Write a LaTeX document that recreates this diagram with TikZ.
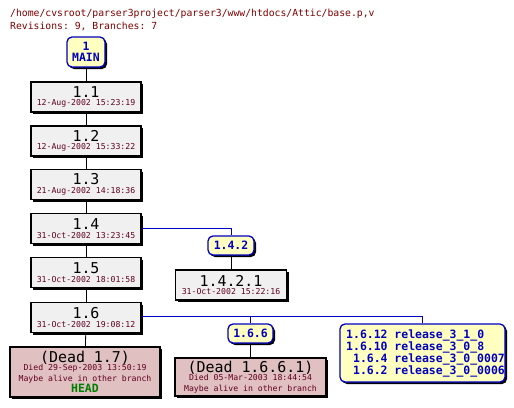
\documentclass[tikz,border=0pt]{standalone}
\usepackage{fontspec}
\setmonofont{DejaVu Sans Mono}
\usetikzlibrary{shadows}
\definecolor{revfill}{HTML}{F0F0F0}
\definecolor{deadfill}{HTML}{E0C0C0}
\definecolor{tagfill}{HTML}{FFFFC0}
\definecolor{datec}{HTML}{600020}
\definecolor{titlec}{HTML}{800000}
\definecolor{tagc}{HTML}{0000C0}
\definecolor{headc}{HTML}{008000}
\newcommand\bigf{\fontsize{15}{15}\selectfont}
\newcommand\smallf{\fontsize{8.2}{9}\selectfont}
\newcommand\tagf{\fontsize{11.5}{13}\selectfont\bfseries}
\tikzset{
  shad/.style={drop shadow={shadow xshift=2bp, shadow yshift=-2bp, fill=black, opacity=1}},
  revbox/.style={shad, draw=black, fill=revfill, line width=1.3bp, minimum width=110bp, minimum height=30bp, inner sep=0pt, align=center, font=\ttfamily},
  deadbox/.style={revbox, fill=deadfill},
  tagbox/.style={shad, draw=tagc, fill=tagfill, line width=1.3bp, rounded corners=5bp, inner sep=0pt, align=center, font=\ttfamily\tagf, text=tagc},
  trunk/.style={draw=black, line width=0.8bp},
  branch/.style={draw=tagc, line width=0.8bp},
}
\newcommand\rev[2]{{\bigf #1}\\[-3.5bp]{\smallf\color{datec}#2}}
\begin{document}
\begin{tikzpicture}[x=1bp,y=-1bp]
\useasboundingbox (0,0) rectangle (514,407);
\node[anchor=base west, font=\ttfamily\fontsize{9.8}{11}\selectfont, text=titlec, inner sep=0pt] (title) at (10,16) {/home/cvsroot/parser3project/parser3/www/htdocs/Attic/base.p,v};
\node[anchor=base west, font=\ttfamily\fontsize{9.8}{11}\selectfont, text=titlec, inner sep=0pt] (revs) at (10,29) {Revisions: 9, Branches: 7};

\node[tagbox, minimum width=38bp, minimum height=30bp] (main) at (86,52) {1\\[-2bp]MAIN};
\node[revbox] (r11) at (86,97) {\rev{1.1}{12-Aug-2002 15:23:19}};
\node[revbox] (r12) at (86,141) {\rev{1.2}{12-Aug-2002 15:33:22}};
\node[revbox] (r13) at (86,184.5) {\rev{1.3}{21-Aug-2002 14:18:36}};
\node[revbox] (r14) at (86,228.5) {\rev{1.4}{31-Oct-2002 13:23:45}};
\node[revbox] (r15) at (86,272.5) {\rev{1.5}{31-Oct-2002 18:01:58}};
\node[revbox] (r16) at (86,317.5) {\rev{1.6}{31-Oct-2002 19:08:12}};
\node[deadbox, minimum width=150bp, minimum height=50bp] (d17) at (85,372) {{\bigf (Dead 1.7)}\\[-3.5bp]{\smallf\color{datec}Died 29-Sep-2003 13:50:19}\\[-1bp]{\smallf\color{datec}Maybe alive in other branch}\\[-1bp]{\tagf\color{headc}HEAD}};

\node[tagbox, minimum width=46bp, minimum height=19bp] (t142) at (231,245.5) {1.4.2};
\node[revbox, minimum width=111bp] (r1421) at (231,285) {\rev{1.4.2.1}{31-Oct-2002 15:22:16}};

\node[tagbox, minimum width=45bp, minimum height=19bp] (t166) at (250.5,333.5) {1.6.6};
\node[deadbox, minimum width=151bp, minimum height=38bp] (d1661) at (250.5,377) {{\bigf (Dead 1.6.6.1)}\\[-3.5bp]{\smallf\color{datec}Died 05-Mar-2003 18:44:54}\\[-1bp]{\smallf\color{datec}Maybe alive in other branch}};

\node[tagbox, minimum width=165bp, minimum height=58bp] (rel) at (422.5,353) {};
\begin{scope}
\clip (341,325) rectangle (504,381);
\node[anchor=west, inner sep=0pt, font=\ttfamily\tagf, text=tagc] (reltext) at (346,353.5) {\renewcommand\arraystretch{0.86}\begin{tabular}{@{}r@{\hspace{0.602em}}l@{}}1.6.12 & release\_3\_1\_0\\1.6.10 & release\_3\_0\_8\\1.6.4 & release\_3\_0\_0007\\1.6.2 & release\_3\_0\_0006\end{tabular}};
\end{scope}

\path[trunk] (main) -- (r11);
\path[trunk] (r11) -- (r12);
\path[trunk] (r12) -- (r13);
\path[trunk] (r13) -- (r14);
\path[trunk] (r14) -- (r15);
\path[trunk] (r15) -- (r16);
\path[trunk] (r16) -- (d17);
\path[trunk] (t142) -- (t142 |- r1421.north);
\path[trunk] (t166) -- (d1661);
\path[branch] (r14.east) -| (t142.north);
\path[branch] (r16.east |- 0,316) -| (rel.north);
\coordinate (b166) at (t166.north |- 0,316);
\path[branch] (b166) -- (t166.north);
\end{tikzpicture}
\end{document}
